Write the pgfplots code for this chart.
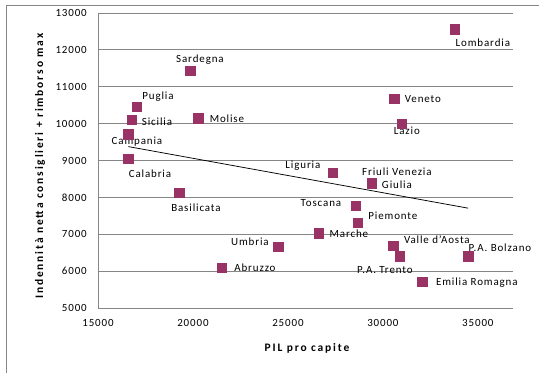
\documentclass[border=0pt]{standalone}
\usepackage{pgfplots}
\pgfplotsset{compat=1.18}
\usepackage{fontspec}
\setmainfont{Carlito}[LetterSpace=8]
\newfontfamily\bfl{Carlito}[LetterSpace=16, UprightFont={* Bold}]
\definecolor{mk}{RGB}{153,51,102}
\definecolor{gr}{RGB}{134,134,134}
\newcommand{\lbl}{\fontsize{11}{13}\selectfont}
\begin{document}
\begin{tikzpicture}
\useasboundingbox (-98bp,-65bp) rectangle (441bp,308bp);
\fill[white] (-98bp,-65bp) rectangle (441bp,308bp);
\draw[gr, line width=0.75bp] (-92bp,-66bp) -- (-92bp,303bp) -- (442bp,303bp);
\begin{axis}[
  at={(0bp,0bp)}, anchor=south west,
  scale only axis, width=415bp, height=295bp,
  xmin=15000, xmax=36850, ymin=5000, ymax=13000,
  xtick={15000,20000,25000,30000,35000},
  ytick={5000,6000,7000,8000,9000,10000,11000,12000,13000},
  ymajorgrids, grid style={gr, line width=0.75bp},
  axis x line*=bottom, axis y line*=left,
  axis line style={gr, line width=0.75bp},
  major tick length=0pt,
  /pgf/number format/assume math mode=true,
  /pgf/number format/1000 sep={},
  scaled ticks=false,
  tick label style={font=\lbl, inner sep=0pt},
  yticklabel style={anchor=east, xshift=-11bp},
  xticklabel style={anchor=center, yshift=-15bp},
  clip=false,
]
\addplot[black, line width=0.75bp, no marks] coordinates {(16597,9377) (34491,7707)};
\addplot[only marks, mark=square*, mark size=4.75bp, mark options={fill=mk, draw=mk}] coordinates {
(33789,12558) (19842,11436) (17035,10461) (16772,10100) (20279,10146)
(16597,9713) (16597,9051) (19263,8130) (21509,6098) (24491,6667)
(26632,7030) (28579,7770) (28667,7317) (30544,6693) (30895,6407)
(34491,6407) (32070,5718) (27347,8672) (29400,8385) (30596,10678)
(30982,9992)};
\node[font=\lbl] at (axis cs:35263,12195) {Lombardia};
\node[font=\lbl] at (axis cs:20368,11726) {Sardegna};
\node[font=\lbl] at (axis cs:18158,10724) {Puglia};
\node[font=\lbl] at (axis cs:18105,10046) {Sicilia};
\node[font=\lbl] at (axis cs:21789,10127) {Molise};
\node[font=\lbl] at (axis cs:17053,9504) {Campania};
\node[font=\lbl] at (axis cs:17737,8637) {Calabria};
\node[font=\lbl] at (axis cs:20158,7716) {Basilicata};
\node[font=\lbl] at (axis cs:23263,6090) {Abruzzo};
\node[font=\lbl] at (axis cs:23000,6794) {Umbria};
\node[font=\lbl] at (axis cs:28210,7011) {Marche};
\node[font=\lbl] at (axis cs:26737,7851) {Toscana};
\node[font=\lbl] at (axis cs:30526,7499) {Piemonte};
\node[font=\lbl] at (axis cs:32842,6848) {Valle d’Aosta};
\node[font=\lbl] at (axis cs:36158,6632) {P.A. Bolzano};
\node[font=\lbl] at (axis cs:30105,6035) {P.A. Trento};
\node[font=\lbl] at (axis cs:34947,5683) {Emilia Romagna};
\node[font=\lbl] at (axis cs:25789,8854) {Liguria};
\node[font=\lbl, align=center, inner sep=0pt] at (axis cs:30737,8528) {Friuli Venezia\\Giulia};
\node[font=\lbl] at (axis cs:32105,10669) {Veneto};
\node[font=\lbl] at (axis cs:31263,9802) {Lazio};
\end{axis}
\node[font=\bfl\fontsize{11.5}{13}\selectfont] at (209bp,-40bp) {PIL pro capite};
\node[font=\bfl\fontsize{11.5}{13}\selectfont, rotate=90] at (-58bp,142bp) {Indennità netta consiglieri + rimborso max};
\end{tikzpicture}
\end{document}
